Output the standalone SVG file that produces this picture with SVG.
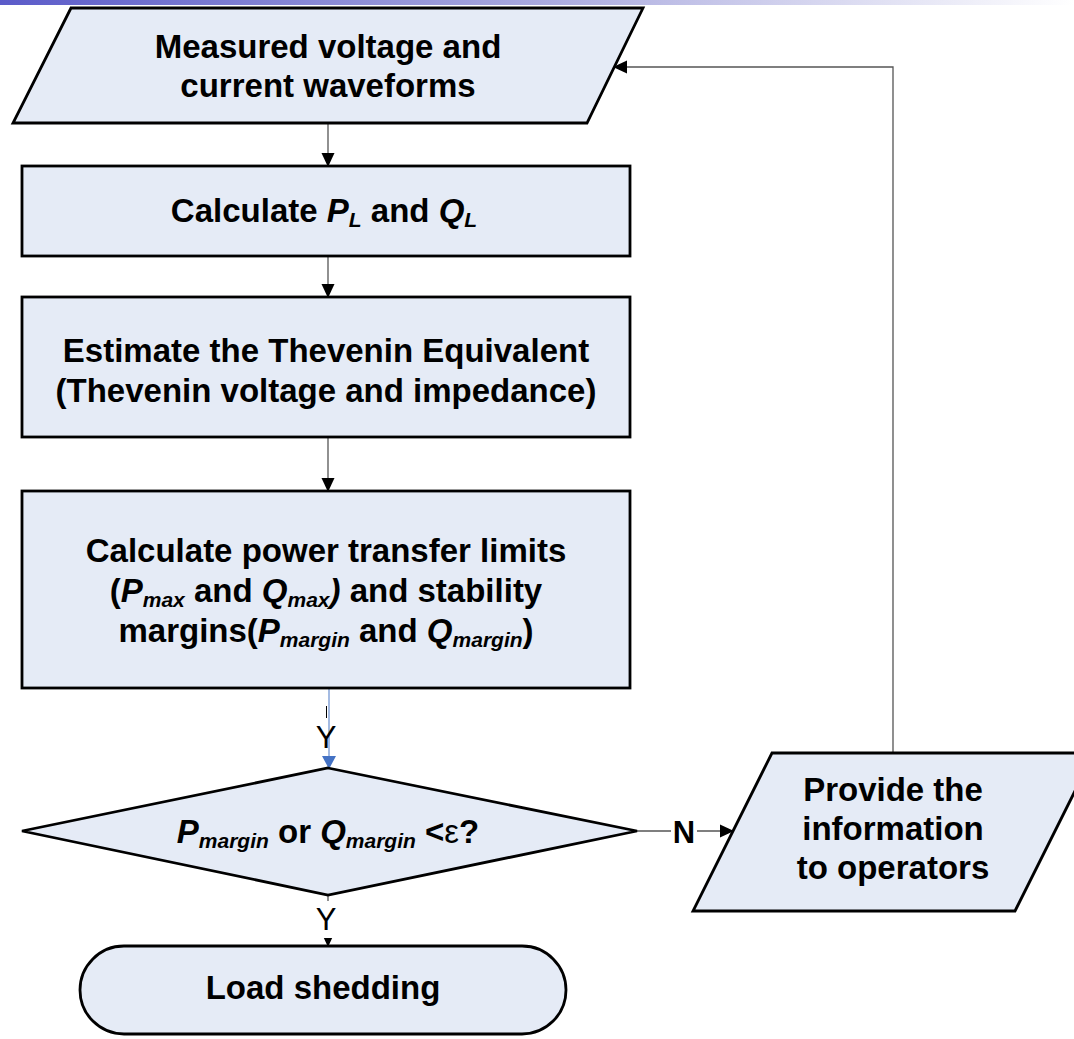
<svg xmlns="http://www.w3.org/2000/svg" width="1074" height="1039" viewBox="0 0 1074 1039">
  <defs>
    <linearGradient id="band" x1="0" y1="0" x2="1" y2="0">
      <stop offset="0" stop-color="#5b5bc9"/>
      <stop offset="0.5" stop-color="#a9a9de"/>
      <stop offset="1" stop-color="#ffffff"/>
    </linearGradient>
    <marker id="arrowBlack" markerWidth="14" markerHeight="14" refX="13" refY="7" orient="auto" markerUnits="userSpaceOnUse" viewBox="0 0 14 14">
      <path d="M0,0.5 L14,7 L0,13.5 Z" fill="#000"/>
    </marker>
    <marker id="arrowBlue" markerWidth="13" markerHeight="14" refX="12" refY="7" orient="auto" markerUnits="userSpaceOnUse" viewBox="0 0 13 14">
      <path d="M0,0 L13,7 L0,14 Z" fill="#4472c4"/>
    </marker>
  </defs>
  <style>
    .shape { fill: #e5ebf6; stroke: #000; stroke-width: 2.8; stroke-linejoin: miter; }
    .label { font-family: "Liberation Sans", Arial, sans-serif; font-weight: bold; font-size: 33px; fill: #000; text-anchor: middle; }
    .it { font-style: italic; }
    .sub { font-style: italic; font-size: 21px; }
    .conn { fill: none; stroke: #555; stroke-width: 1.3; }
    .yes { font-family: "Liberation Sans", Arial, sans-serif; font-size: 31px; fill: #000; text-anchor: middle; }
  </style>

  <rect x="0" y="0" width="1074" height="5" fill="url(#band)"/>

  <g id="connectors">
    <line class="conn" x1="328" y1="123" x2="328" y2="166" marker-end="url(#arrowBlack)"/>
    <line class="conn" x1="328" y1="256" x2="328" y2="297" marker-end="url(#arrowBlack)"/>
    <line class="conn" x1="328" y1="437" x2="328" y2="491" marker-end="url(#arrowBlack)"/>
    <line x1="329" y1="688" x2="329" y2="768" stroke="#8eaadb" stroke-width="1.6" marker-end="url(#arrowBlue)"/>
    <line x1="326.5" y1="706" x2="326.5" y2="718" stroke="#000" stroke-width="1"/>
    <text class="yes" x="326" y="748">Y</text>
    <line class="conn" x1="328" y1="895" x2="328" y2="946" marker-end="url(#arrowBlack)"/>
    <rect x="312" y="901" width="32" height="37" fill="#fff"/>
    <text class="yes" x="326" y="930">Y</text>
    <line class="conn" x1="637" y1="831" x2="733" y2="831" marker-end="url(#arrowBlack)"/>
    <rect x="671" y="815" width="26" height="30" fill="#fff"/>
    <text class="label" x="684" y="843" style="font-size:31px">N</text>
    <polyline class="conn" points="893,753 893,67 614,67" marker-end="url(#arrowBlack)"/>
  </g>

  <g id="input-waveforms">
    <polygon class="shape" points="71,8 643,8 587,123 13,123"/>
    <text class="label" x="328" y="58">Measured voltage and</text>
    <text class="label" x="328" y="97">current waveforms</text>
  </g>

  <g id="calc-pq">
    <rect class="shape" x="22" y="166" width="608" height="90"/>
    <text class="label" x="324" y="222">Calculate <tspan class="it">P</tspan><tspan class="sub" dy="5">L</tspan><tspan dy="-5"> and </tspan><tspan class="it">Q</tspan><tspan class="sub" dy="5">L</tspan></text>
  </g>

  <g id="thevenin">
    <rect class="shape" x="22" y="297" width="608" height="140"/>
    <text class="label" x="326" y="362">Estimate the Thevenin Equivalent</text>
    <text class="label" x="326" y="402">(Thevenin voltage and impedance)</text>
  </g>

  <g id="limits">
    <rect class="shape" x="22" y="491" width="608" height="197"/>
    <text class="label" x="326" y="562">Calculate power transfer limits</text>
    <text class="label" x="326" y="602">(<tspan class="it">P</tspan><tspan class="sub" dy="5">max</tspan><tspan dy="-5"> and </tspan><tspan class="it">Q</tspan><tspan class="sub" dy="5">max</tspan><tspan class="it" dy="-5">)</tspan> and stability</text>
    <text class="label" x="326" y="642">margins(<tspan class="it">P</tspan><tspan class="sub" dy="5">margin</tspan><tspan dy="-5"> and </tspan><tspan class="it">Q</tspan><tspan class="sub" dy="5">margin</tspan><tspan dy="-5">)</tspan></text>
  </g>

  <g id="decision">
    <polygon class="shape" points="328,768 637,831 328,895 22,831"/>
    <text class="label" x="328" y="843"><tspan class="it">P</tspan><tspan class="sub" dy="5">margin</tspan><tspan dy="-5"> or </tspan><tspan class="it">Q</tspan><tspan class="sub" dy="5">margin</tspan><tspan dy="-5"> &lt;</tspan><tspan style="font-weight:normal">ε</tspan>?</text>
  </g>

  <g id="notify-operators">
    <polygon class="shape" points="772,753 1094,753 1015,911 693,911"/>
    <text class="label" x="893" y="801">Provide the</text>
    <text class="label" x="893" y="840">information</text>
    <text class="label" x="893" y="879">to operators</text>
  </g>

  <g id="load-shedding">
    <rect class="shape" x="80" y="946" width="486" height="88" rx="44" ry="44"/>
    <text class="label" x="323" y="999">Load shedding</text>
  </g>
</svg>
